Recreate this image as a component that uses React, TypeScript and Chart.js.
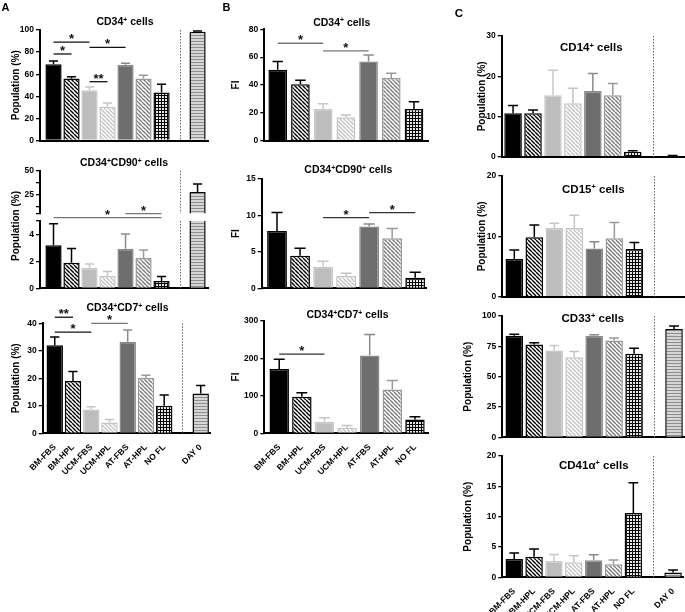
import React, { useEffect, useRef } from 'react';
import { Chart, registerables } from 'chart.js';

Chart.register(...registerables);

const FONT = '"Liberation Sans", Arial, Helvetica, sans-serif';

// ---------- categories ----------
const GROUPS = ['BM-FBS', 'BM-HPL', 'UCM-FBS', 'UCM-HPL', 'AT-FBS', 'AT-HPL', 'NO FL', '', 'DAY 0'];
const GROUPS_FI = ['BM-FBS', 'BM-HPL', 'UCM-FBS', 'UCM-HPL', 'AT-FBS', 'AT-HPL', 'NO FL'];

// ---------- panel A: population (%) ----------
const A_CD34 = [69, 56, 45.5, 30.5, 68.5, 56, 43.5, null, 98.5];
const A_CD34_SD = [3, 1.7, 3, 3.5, 1.5, 3, 7.5, null, 0.5];
const A_CD90 = [3.2, 1.9, 1.5, 0.92, 2.93, 2.25, 0.55, null, 27.5];
const A_CD90_SD = [1.6, 1.05, 0.3, 0.33, 1.1, 0.6, 0.32, null, 8.5];
const A_CD7 = [32, 19, 8.7, 3.9, 33.3, 20.1, 10, null, 14.5];
const A_CD7_SD = [3, 3.5, 1, 1.1, 4.3, 1, 3.9, null, 2.9];

// ---------- panel B: FI ----------
const B_CD34 = [51, 40.5, 22.8, 16.8, 56.8, 45, 22.8];
const B_CD34_SD = [5.8, 3, 3.8, 1.7, 4.8, 3.5, 5.2];
const B_CD90 = [7.85, 4.47, 2.96, 1.7, 8.45, 6.85, 1.45];
const B_CD90_SD = [2.55, 1.03, 0.74, 0.35, 0.35, 1.35, 0.75];
const B_CD7 = [171, 97.5, 31, 15, 207, 117, 37];
const B_CD7_SD = [26, 10.5, 10.5, 5.5, 56, 24, 7];

// ---------- panel C: population (%) ----------
const C_CD14 = [10.8, 10.8, 15.3, 13.3, 16.3, 15.3, 1.2, null, 0.15];
const C_CD14_SD = [1.9, 0.8, 6.2, 3.7, 4.4, 2.9, 0.3, null, 0.15];
const C_CD15 = [6.25, 9.85, 11.4, 11.4, 8, 9.7, 7.9, null, null];
const C_CD15_SD = [1.5, 2.05, 0.75, 2.1, 1.1, 2.6, 1.1, null, null];
const C_CD33 = [83.8, 76.5, 71.5, 66, 83.8, 79.8, 68.8, null, 89.3];
const C_CD33_SD = [1.2, 1.5, 4.2, 4.7, 0.7, 2, 4.6, null, 2.5];
const C_CD41 = [3.0, 3.4, 2.7, 2.5, 2.8, 2.15, 10.6, null, 0.8];
const C_CD41_SD = [1.0, 1.25, 1.05, 1.05, 0.9, 0.7, 5.0, null, 0.4];

// ---------- y tick values ----------
const TICKS_A1 = [0, 20, 40, 60, 80, 100];
const TICKS_A2_UP = [5, 12.5, 25, 37.5, 50];
const LABELS_A2_UP = [25, 50];
const TICKS_A2_LOW = [0, 2, 4, 5];
const LABELS_A2_LOW = [0, 2, 4];
const TICKS_A3 = [0, 10, 20, 30, 40];
const TICKS_B1 = [0, 20, 40, 60, 80];
const TICKS_B2 = [0, 5, 10, 15];
const TICKS_B3 = [0, 100, 200, 300];
const TICKS_C1 = [0, 10, 20, 30];
const TICKS_C2 = [0, 10, 20];
const TICKS_C3 = [0, 25, 50, 75, 100];
const TICKS_C4 = [0, 5, 10, 15, 20];

// ---------- significance brackets: [from, to, y value, mark] ----------
const SIG_A1 = [[0, 2, 89, '*'], [2, 4, 84.3, '*'], [0, 1, 78.3, '*'], [2, 3, 53.2, '**']];
const SIG_A2 = [[0, 6, 5.25, '*'], [4, 6, 5.55, '*']];
const SIG_A3 = [[0, 1, 42.2, '**'], [0, 2, 36.8, '*'], [2, 4, 40, '*']];
const SIG_B1 = [[0, 2, 70, '*'], [2, 4, 64.5, '*']];
const SIG_B2 = [[2, 4, 9.67, '*'], [4, 6, 10.36, '*']];
const SIG_B3 = [[0, 2, 211, '*']];

const STYLE_KEYS = ['bmFbs', 'bmHpl', 'ucmFbs', 'ucmHpl', 'atFbs', 'atHpl', 'noFl', 'none', 'day0'];

function diag(fg: string) {
  const s = 4;
  const c = document.createElement('canvas');
  c.width = s; c.height = s;
  const g = c.getContext('2d')!;
  g.fillStyle = '#fff'; g.fillRect(0, 0, s, s);
  g.strokeStyle = fg; g.lineWidth = 1.4;
  g.beginPath();
  for (const k of [-s, 0, s]) { g.moveTo(k, 0); g.lineTo(k + s, s); }
  g.stroke();
  return g.createPattern(c, 'repeat')!;
}
function grid(fg: string) {
  const c = document.createElement('canvas');
  c.width = 3; c.height = 3;
  const g = c.getContext('2d')!;
  g.fillStyle = '#e8e8e8'; g.fillRect(0, 0, 3, 3);
  g.fillStyle = fg; g.fillRect(0, 0, 3, 1); g.fillRect(0, 0, 1, 3);
  return g.createPattern(c, 'repeat')!;
}
function hlines() {
  const c = document.createElement('canvas');
  c.width = 4; c.height = 3;
  const g = c.getContext('2d')!;
  g.fillStyle = '#d6d6d6'; g.fillRect(0, 0, 4, 3);
  g.fillStyle = '#8e8e8e'; g.fillRect(0, 0, 4, 1);
  return g.createPattern(c, 'repeat')!;
}
function getStyles(): Record<string, { fill: any; border: string }> {
  return {
    bmFbs: { fill: '#000', border: '#000' },
    bmHpl: { fill: diag('#000'), border: '#000' },
    ucmFbs: { fill: '#bdbdbd', border: '#c8c8c8' },
    ucmHpl: { fill: diag('#c2c2c2'), border: '#c4c4c4' },
    atFbs: { fill: '#6e6e6e', border: '#8a8a8a' },
    atHpl: { fill: diag('#7a7a7a'), border: '#999' },
    noFl: { fill: grid('#000'), border: '#000' },
    none: { fill: '#fff', border: '#fff' },
    day0: { fill: hlines(), border: '#000' },
  };
}

type Spec = {
  area: [number, number, number, number];
  xRange: [number, number];
  yRange: [number, number];
  yTicks: number[];
  yLabeled?: number[];
  values: (number | null)[];
  sd: (number | null)[];
  labels: string[];
  showXLabels: boolean;
  showXAxis: boolean;
  yTitle?: string;
  yTitleX?: number;
  dotted: boolean;
  sig?: any[];
  sigColors?: string[];
  barPct: number;
};

const TITLE_SIZE = 10;

const onlyDay0 = (arr: (number | null)[]) => arr.map((v, i) => (i === 8 ? v : null));
const noDay0 = (arr: (number | null)[]) => arr.map((v, i) => (i === 8 ? null : v));

const SPECS: Spec[] = [
  { area: [40, 30, 208, 140.5], xRange: [-0.75, 8.58], yRange: [0, 100], yTicks: TICKS_A1, values: A_CD34, sd: A_CD34_SD, labels: GROUPS, showXLabels: false, showXAxis: true, yTitle: 'Population (%)', yTitleX: 16, dotted: true, sig: SIG_A1, sigColors: ['#111', '#111', '#111', '#111'], barPct: 0.9 },
  { area: [40, 170.7, 208, 213.3], xRange: [-0.75, 8.58], yRange: [5, 50], yTicks: TICKS_A2_UP, yLabeled: LABELS_A2_UP, values: onlyDay0(A_CD90), sd: onlyDay0(A_CD90_SD), labels: GROUPS, showXLabels: false, showXAxis: false, dotted: true, barPct: 0.9 },
  { area: [40, 221, 208, 288.3], xRange: [-0.75, 8.58], yRange: [0, 5], yTicks: TICKS_A2_LOW, yLabeled: LABELS_A2_LOW, values: A_CD90, sd: noDay0(A_CD90_SD), labels: GROUPS, showXLabels: false, showXAxis: true, dotted: true, sig: SIG_A2, sigColors: ['#777', '#777'], barPct: 0.9 },
  { area: [42.7, 323.3, 210, 433.3], xRange: [-0.66, 8.51], yRange: [0, 40], yTicks: TICKS_A3, values: A_CD7, sd: A_CD7_SD, labels: GROUPS, showXLabels: true, showXAxis: true, yTitle: 'Population (%)', yTitleX: 16, dotted: true, sig: SIG_A3, sigColors: ['#111', '#111', '#777'], barPct: 0.9 },
  { area: [264.3, 29.3, 428.3, 140.7], xRange: [-0.59, 6.63], yRange: [0, 80], yTicks: TICKS_B1, values: B_CD34, sd: B_CD34_SD, labels: GROUPS_FI, showXLabels: false, showXAxis: true, yTitle: 'FI', yTitleX: 236.5, dotted: false, sig: SIG_B1, sigColors: ['#777', '#777'], barPct: 0.82 },
  { area: [261.7, 178.8, 426.7, 288.3], xRange: [-0.665, 6.5], yRange: [0, 15], yTicks: TICKS_B2, values: B_CD90, sd: B_CD90_SD, labels: GROUPS_FI, showXLabels: false, showXAxis: true, yTitle: 'FI', yTitleX: 236.5, dotted: false, sig: SIG_B2, sigColors: ['#333', '#333'], barPct: 0.86 },
  { area: [264.3, 320.7, 428.3, 433.3], xRange: [-0.66, 6.59], yRange: [0, 300], yTicks: TICKS_B3, values: B_CD7, sd: B_CD7_SD, labels: GROUPS_FI, showXLabels: true, showXAxis: true, yTitle: 'FI', yTitleX: 236.5, dotted: false, sig: SIG_B3, sigColors: ['#333'], barPct: 0.86 },
  { area: [501.7, 36, 684, 156.7], xRange: [-0.57, 8.57], yRange: [0, 30], yTicks: TICKS_C1, values: C_CD14, sd: C_CD14_SD, labels: GROUPS, showXLabels: false, showXAxis: true, yTitle: 'Population (%)', yTitleX: 482.5, dotted: true, barPct: 0.88 },
  { area: [502.3, 176, 685, 296.7], xRange: [-0.6, 8.53], yRange: [0, 20], yTicks: TICKS_C2, values: C_CD15, sd: C_CD15_SD, labels: GROUPS, showXLabels: false, showXAxis: true, yTitle: 'Population (%)', yTitleX: 482.5, dotted: true, barPct: 0.88 },
  { area: [502.3, 316, 685, 437.3], xRange: [-0.6, 8.55], yRange: [0, 100], yTicks: TICKS_C3, values: C_CD33, sd: C_CD33_SD, labels: GROUPS, showXLabels: false, showXAxis: true, yTitle: 'Population (%)', yTitleX: 468.5, dotted: true, barPct: 0.88 },
  { area: [502.3, 456, 683, 577.3], xRange: [-0.6, 8.5], yRange: [0, 20], yTicks: TICKS_C4, values: C_CD41, sd: C_CD41_SD, labels: GROUPS, showXLabels: true, showXAxis: true, yTitle: 'Population (%)', yTitleX: 468.5, dotted: true, barPct: 0.88 },
];

function BarChart({ spec }: { spec: Spec }) {
  const ref = useRef<HTMLCanvasElement>(null);
  const [l, t, r, b] = spec.area;
  const x0 = Math.floor(l - 62);
  const y0 = Math.floor(t - 28);
  const w = Math.ceil(r + 3 - x0);
  const h = Math.ceil(b + (spec.showXLabels ? 52 : 6) - y0);

  useEffect(() => {
    const styles = getStyles();
    const idx: number[] = [];
    spec.values.forEach((v, i) => { if (v != null) idx.push(i); });
    const points = idx.map((i) => ({ x: i, y: spec.values[i] as number }));
    const bg = idx.map((i) => styles[STYLE_KEYS[i]].fill);
    const bc = idx.map((i) => styles[STYLE_KEYS[i]].border);
    const yW = spec.yTitle ? l - (spec.yTitleX as number) + (TITLE_SIZE * 1.2) / 2 : 30;
    const padLeft = l - x0 - yW;
    const padTop = t - y0;
    const padRight = x0 + w - r;
    const xH = y0 + h - b;
    const labeled = spec.yLabeled || spec.yTicks;

    const annot = {
      id: 'annot',
      afterDatasetsDraw(chart: any) {
        const ctx = chart.ctx;
        const xs = chart.scales.x;
        const ys = chart.scales.y;
        const area = chart.chartArea;
        const meta = chart.getDatasetMeta(0);
        // error bars
        meta.data.forEach((el: any, k: number) => {
          const i = idx[k];
          const sd = spec.sd[i];
          if (sd == null) return;
          const yTop = ys.getPixelForValue((spec.values[i] as number) + sd);
          const cw = el.width * 0.56;
          ctx.save();
          ctx.strokeStyle = styles[STYLE_KEYS[i]].border;
          ctx.lineWidth = 1.5;
          ctx.beginPath();
          ctx.moveTo(el.x, el.y);
          ctx.lineTo(el.x, yTop);
          ctx.moveTo(el.x - cw / 2, yTop);
          ctx.lineTo(el.x + cw / 2, yTop);
          ctx.stroke();
          ctx.restore();
        });
        // dotted separator
        if (spec.dotted) {
          const x = Math.round(xs.getPixelForValue(7)) + 0.5;
          ctx.save();
          ctx.strokeStyle = '#666';
          ctx.lineWidth = 1;
          ctx.setLineDash([1.5, 1.5]);
          ctx.beginPath();
          ctx.moveTo(x, area.top);
          ctx.lineTo(x, area.bottom);
          ctx.stroke();
          ctx.restore();
        }
        // significance brackets
        (spec.sig || []).forEach((s: any, k: number) => {
          const [from, to, val, mark] = s;
          const x1 = xs.getPixelForValue(from);
          const x2 = xs.getPixelForValue(to);
          const y = ys.getPixelForValue(val);
          const col = (spec.sigColors || [])[k] || '#111';
          ctx.save();
          ctx.strokeStyle = col;
          ctx.fillStyle = '#111';
          ctx.lineWidth = 1.3;
          ctx.beginPath();
          ctx.moveTo(x1, y);
          ctx.lineTo(x2, y);
          ctx.stroke();
          ctx.font = `bold 13px ${FONT}`;
          ctx.textAlign = 'center';
          ctx.textBaseline = 'alphabetic';
          ctx.fillText(mark, (x1 + x2) / 2, y + 1);
          ctx.restore();
        });
      },
    };

    const chart = new Chart(ref.current as HTMLCanvasElement, {
      type: 'bar',
      data: {
        datasets: [
          {
            data: points as any,
            backgroundColor: bg,
            borderColor: bc,
            borderWidth: 1.5,
            borderSkipped: 'start',
            barPercentage: spec.barPct,
            categoryPercentage: 1,
            clip: 0,
          } as any,
        ],
      },
      options: {
        animation: false,
        responsive: false,
        events: [],
        layout: { padding: { left: padLeft, top: padTop, right: padRight, bottom: 0 } },
        plugins: { legend: { display: false }, tooltip: { enabled: false }, title: { display: false } },
        scales: {
          x: {
            type: 'linear',
            min: spec.xRange[0],
            max: spec.xRange[1],
            offset: false,
            grid: { display: false, offset: false },
            border: { display: spec.showXAxis, color: '#000', width: 2 },
            ticks: {
              display: spec.showXLabels,
              autoSkip: false,
              minRotation: 45,
              maxRotation: 45,
              padding: 1,
              color: '#000',
              font: { family: FONT, size: 8.5, weight: 'bold' },
              callback: (v: any) => spec.labels[v] ?? '',
            },
            afterBuildTicks: (s: any) => { s.ticks = spec.labels.map((_, i) => ({ value: i })); },
            afterFit: (s: any) => { s.height = xH; s.paddingLeft = 0; s.paddingRight = 0; },
          } as any,
          y: {
            type: 'linear',
            min: spec.yRange[0],
            max: spec.yRange[1],
            grid: { display: true, drawOnChartArea: false, drawTicks: true, tickLength: 4, color: '#000', lineWidth: 1.3 },
            border: { display: true, color: '#000', width: 2 },
            ticks: {
              autoSkip: false,
              padding: 2,
              color: '#000',
              font: { family: FONT, size: 8.5, weight: 'bold' },
              callback: (v: any) => (labeled.includes(v) ? String(v) : ''),
            },
            title: spec.yTitle
              ? { display: true, text: spec.yTitle, color: '#000', padding: 0, font: { family: FONT, size: TITLE_SIZE, weight: 'bold' } }
              : { display: false },
            afterBuildTicks: (s: any) => { s.ticks = spec.yTicks.map((v) => ({ value: v })); },
            afterFit: (s: any) => { s.width = yW; s.paddingTop = 0; s.paddingBottom = 0; },
          } as any,
        },
      },
      plugins: [annot],
    });
    return () => chart.destroy();
  }, []);

  return (
    <canvas
      ref={ref}
      width={w}
      height={h}
      style={{ position: 'absolute', left: x0, top: y0, width: w, height: h }}
    />
  );
}

function T({ x, y, size, rotate, children }: { x: number; y: number; size: number; rotate?: number; children: any }) {
  return (
    <div
      style={{
        position: 'absolute',
        left: x,
        top: y,
        transform: `translate(-50%, -50%)${rotate ? ` rotate(${rotate}deg)` : ''}`,
        fontFamily: FONT,
        fontWeight: 'bold',
        fontSize: size,
        lineHeight: 1,
        whiteSpace: 'nowrap',
        color: '#000',
      }}
    >
      {children}
    </div>
  );
}

const Sup = () => (
  <span style={{ fontSize: '0.65em', position: 'relative', top: '-0.5em', lineHeight: 0 }}>+</span>
);

export default function App() {
  return (
    <div style={{ position: 'absolute', left: 0, top: 0, width: 685, height: 612, background: '#fff', overflow: 'hidden' }}>
      {SPECS.map((s, i) => (
        <BarChart key={i} spec={s} />
      ))}
      <T x={5.5} y={7} size={11}>A</T>
      <T x={226.5} y={7} size={11}>B</T>
      <T x={459} y={14} size={11.5}>C</T>

      <T x={125} y={21} size={10.5}>CD34<Sup /> cells</T>
      <T x={124} y={162} size={10.5}>CD34<Sup />CD90<Sup /> cells</T>
      <T x={127.5} y={307} size={10.5}>CD34<Sup />CD7<Sup /> cells</T>
      <T x={16} y={226} size={TITLE_SIZE} rotate={-90}>Population (%)</T>

      <T x={341.7} y={21.7} size={10.5}>CD34<Sup /> cells</T>
      <T x={348.3} y={169.3} size={10.5}>CD34<Sup />CD90<Sup /> cells</T>
      <T x={347.5} y={314} size={10.5}>CD34<Sup />CD7<Sup /> cells</T>

      <T x={591.3} y={48.3} size={11.5}>CD14<Sup /> cells</T>
      <T x={593.3} y={190} size={11.5}>CD15<Sup /> cells</T>
      <T x={592.8} y={319} size={11.5}>CD33<Sup /> cells</T>
      <T x={593.8} y={466} size={11.5}>CD41α<Sup /> cells</T>
    </div>
  );
}
